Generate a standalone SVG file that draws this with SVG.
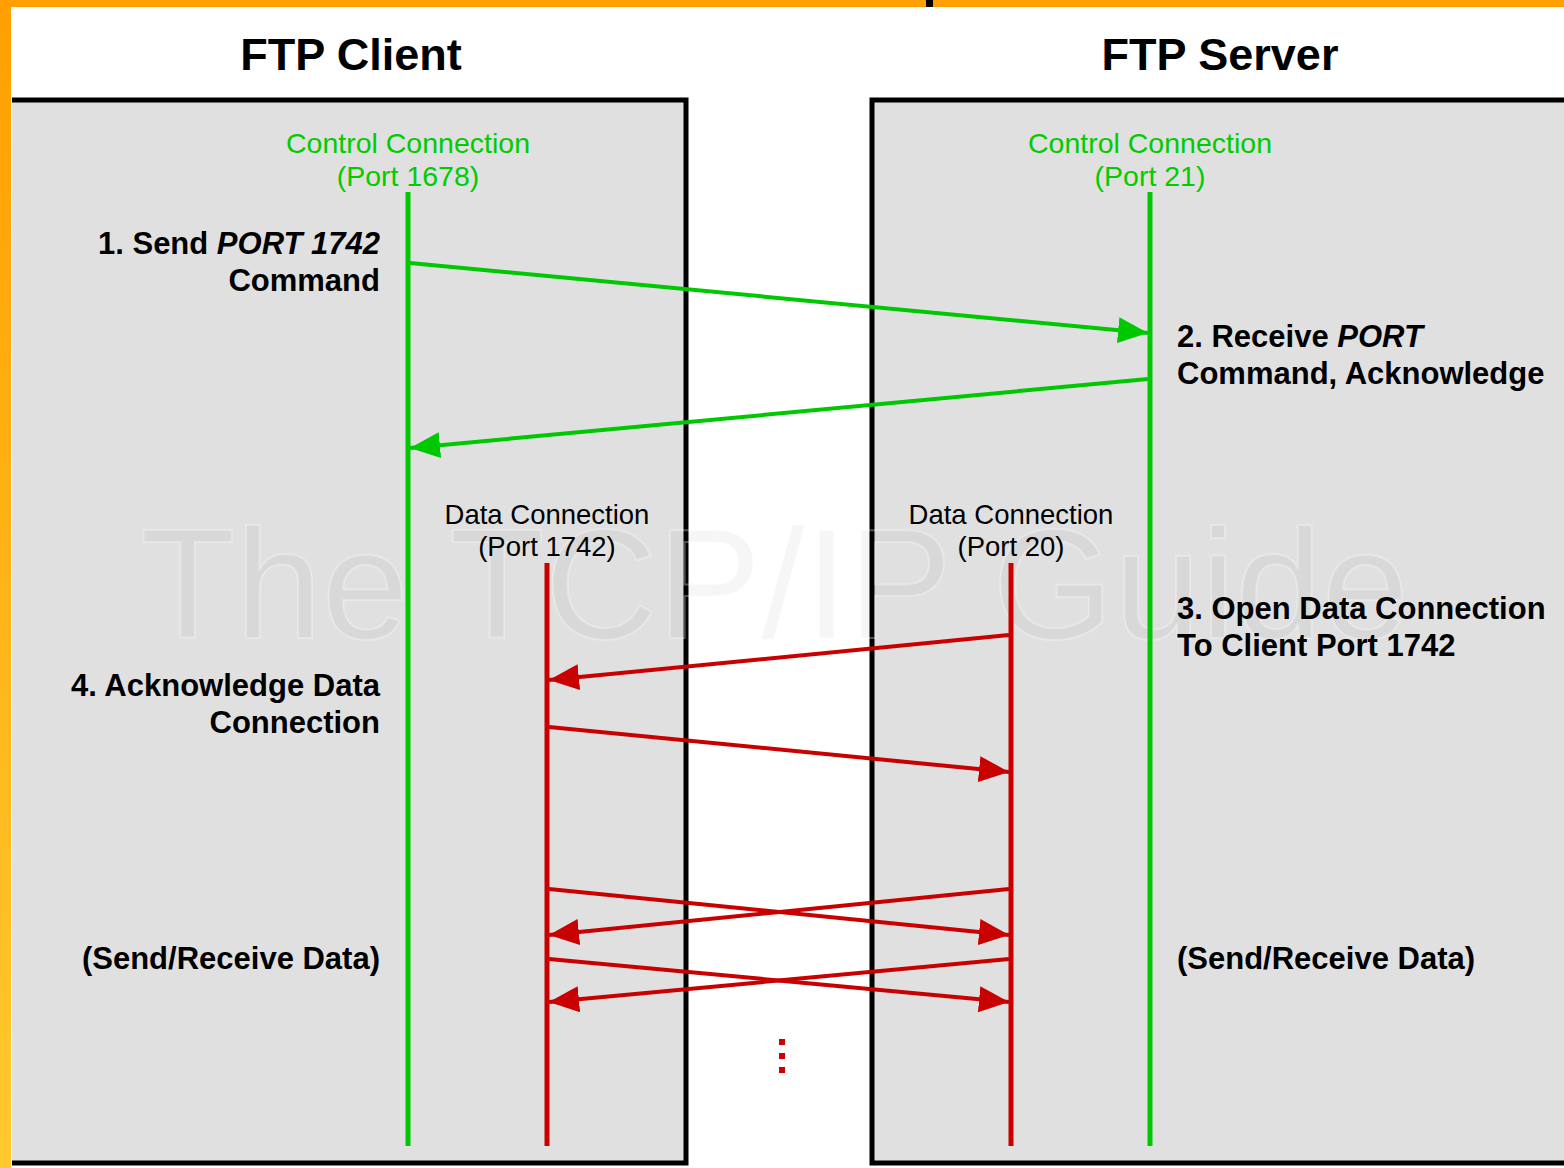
<svg xmlns="http://www.w3.org/2000/svg" width="1564" height="1168" viewBox="0 0 1564 1168">
<style>
.title{font-family:"Liberation Sans",Arial,sans-serif;font-weight:bold;font-size:45px;fill:#000;text-anchor:middle}
.ctl{font-family:"Liberation Sans",Arial,sans-serif;font-size:28.5px;fill:#00cc00;text-anchor:middle}
.dat{font-family:"Liberation Sans",Arial,sans-serif;font-size:27.5px;fill:#000;text-anchor:middle}
.step{font-family:"Liberation Sans",Arial,sans-serif;font-weight:bold;font-size:31px;fill:#000}
.r{text-anchor:end}
.box{fill:#e0e0e0}
.edge{fill:none;stroke:#000;stroke-width:5}
.g{stroke:#00c800;stroke-width:4;fill:none}
.gv{stroke:#00c800;stroke-width:5}
.rd{stroke:#c80000;stroke-width:4;fill:none}
.rv{stroke:#c80000;stroke-width:5}
.wm{font-family:"Liberation Sans",Arial,sans-serif;font-size:156px;fill:#000;fill-opacity:0.035;stroke:#fff;stroke-opacity:0.3;stroke-width:2}
</style>
<defs>
<linearGradient id="side" x1="0" y1="0" x2="0" y2="1">
<stop offset="0" stop-color="#ff9f00"/>
<stop offset="1" stop-color="#ffc92e"/>
</linearGradient>
<marker id="ag" markerUnits="userSpaceOnUse" markerWidth="32" markerHeight="28" refX="30" refY="13" orient="auto">
<path d="M0,0 L30,13 L0,26 Z" fill="#00c800"/>
</marker>
<marker id="ar" markerUnits="userSpaceOnUse" markerWidth="32" markerHeight="28" refX="30" refY="13" orient="auto">
<path d="M0,0 L30,13 L0,26 Z" fill="#c80000"/>
</marker>
</defs>
<rect x="0" y="0" width="1564" height="1168" fill="#fff"/>
<g id="client">
<rect class="box" x="12" y="100" width="674" height="1063"/>
<path class="edge" d="M12,100 H686 V1163 H12"/>
<text class="title" x="351" y="70">FTP Client</text>
</g>
<g id="server">
<rect class="box" x="872" y="100" width="692" height="1063"/>
<path class="edge" d="M1564,100 H872 V1163 H1564"/>
<text class="title" x="1220" y="70">FTP Server</text>
</g>
<text class="wm" x="140" y="638">The TCP/IP Guide</text>
<g id="frame">
<rect x="0" y="0" width="1564" height="7" fill="#ff9f00"/>
<rect x="926" y="0" width="7" height="7" fill="#000"/>
<rect x="0" y="0" width="11" height="1168" fill="url(#side)"/>
</g>
<g id="labels">
<text class="ctl" x="408" y="153">Control Connection</text>
<text class="ctl" x="408" y="186">(Port 1678)</text>
<text class="ctl" x="1150" y="153">Control Connection</text>
<text class="ctl" x="1150" y="186">(Port 21)</text>
<text class="dat" x="547" y="524">Data Connection</text>
<text class="dat" x="547" y="556">(Port 1742)</text>
<text class="dat" x="1011" y="524">Data Connection</text>
<text class="dat" x="1011" y="556">(Port 20)</text>
</g>
<g id="steps">
<text class="step r" x="380" y="254">1. Send <tspan font-style="italic">PORT 1742</tspan></text>
<text class="step r" x="380" y="291">Command</text>
<text class="step" x="1177" y="347">2. Receive <tspan font-style="italic">PORT</tspan></text>
<text class="step" x="1177" y="384">Command, Acknowledge</text>
<text class="step" x="1177" y="619">3. Open Data Connection</text>
<text class="step" x="1177" y="656">To Client Port 1742</text>
<text class="step r" x="380" y="696">4. Acknowledge Data</text>
<text class="step r" x="380" y="733">Connection</text>
<text class="step r" x="380" y="969">(Send/Receive Data)</text>
<text class="step" x="1177" y="969">(Send/Receive Data)</text>
</g>
<g id="connectors">
<line class="gv" x1="408" y1="192" x2="408" y2="1146"/>
<line class="gv" x1="1150" y1="192" x2="1150" y2="1146"/>
<line class="rv" x1="547" y1="563" x2="547" y2="1146"/>
<line class="rv" x1="1011" y1="563" x2="1011" y2="1146"/>
<line class="g" x1="410" y1="263" x2="1148" y2="333" marker-end="url(#ag)"/>
<line class="g" x1="1148" y1="379" x2="410" y2="448" marker-end="url(#ag)"/>
<line class="rd" x1="1009" y1="635" x2="549" y2="680" marker-end="url(#ar)"/>
<line class="rd" x1="549" y1="727" x2="1009" y2="772" marker-end="url(#ar)"/>
<line class="rd" x1="549" y1="889" x2="1009" y2="935" marker-end="url(#ar)"/>
<line class="rd" x1="1009" y1="889" x2="549" y2="935" marker-end="url(#ar)"/>
<line class="rd" x1="549" y1="959" x2="1009" y2="1002" marker-end="url(#ar)"/>
<line class="rd" x1="1009" y1="959" x2="549" y2="1002" marker-end="url(#ar)"/>
<rect x="779" y="1039" width="6" height="6" fill="#c80000"/>
<rect x="779" y="1053" width="6" height="6" fill="#c80000"/>
<rect x="779" y="1067" width="6" height="6" fill="#c80000"/>
</g>
</svg>
